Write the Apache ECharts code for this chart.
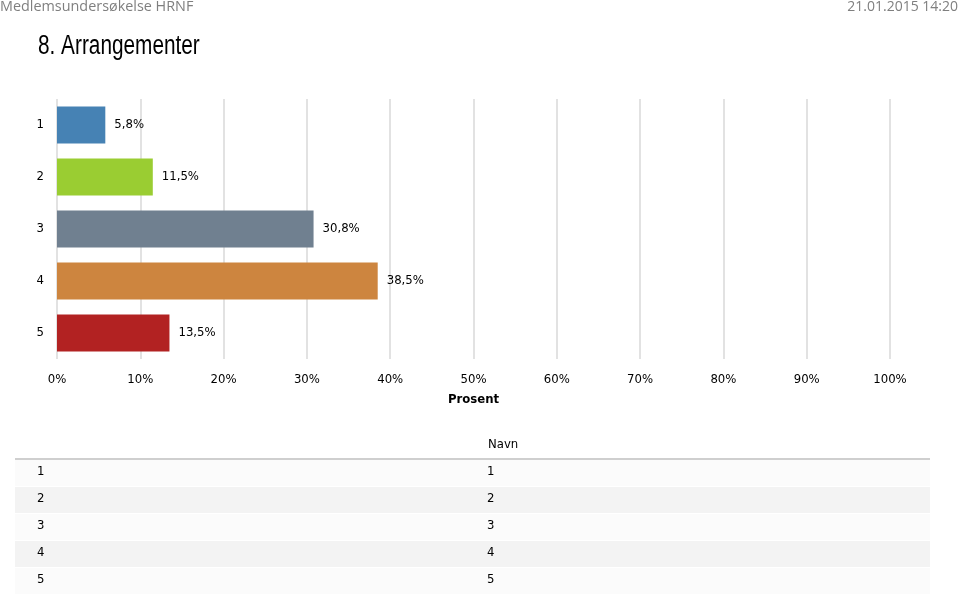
<!DOCTYPE html>
<html><head><meta charset="utf-8">
<script src="https://cdn.jsdelivr.net/npm/echarts@6/dist/echarts.min.js"></script>
<style>html,body{margin:0;padding:0;background:#fff}#c{width:960px;height:595px}</style>
</head><body><div id="c"></div>
<script>
var categories = ['1', '2', '3', '4', '5'];
var values = [5.8, 11.5, 30.8, 38.5, 13.5];
var colors = ['#4682B4', '#9ACD32', '#708090', '#CD853F', '#B22222'];
var tableHeader = 'Navn';
var tableCol1 = ['1', '2', '3', '4', '5'];
var tableCol2 = ['1', '2', '3', '4', '5'];
var FONT = '"DejaVu Sans Condensed", "Liberation Sans", sans-serif';

var chart = echarts.init(document.getElementById('c'));
var graphics = [
  {type:'text', x: 0, y: 0, style:{text:'Medlemsundersøkelse HRNF', fill:'#7f7f7f', font:'14.4px "Open Sans", sans-serif'}},
  {type:'text', right: 2, top: 0, style:{text:'21.01.2015 14:20', fill:'#7f7f7f', font:'14px "Open Sans", sans-serif'}},
  {type:'text', x: 38, y: 33, scaleX: 0.77, style:{text:'8. Arrangementer', fill:'#000', font:'27px "Liberation Sans", sans-serif'}},
  {type:'text', left: 488, top: 438, style:{text:tableHeader, fill:'#000', font:'13px ' + FONT}},
  {type:'rect', shape:{x:15, y:458, width:915, height:2}, style:{fill:'#cfcfcf'}}
];
for (var i = 0; i < tableCol1.length; i++) {
  var y = 460 + i * 27;
  graphics.push({type:'rect', shape:{x:15, y:y, width:915, height:26}, style:{fill: i % 2 ? '#f3f3f3' : '#fbfbfb'}, z:-1});
  graphics.push({type:'text', left: 37, top: y + 5, style:{text:tableCol1[i], fill:'#000', font:'13px ' + FONT}});
  graphics.push({type:'text', left: 487, top: y + 5, style:{text:tableCol2[i], fill:'#000', font:'13px ' + FONT}});
}

chart.setOption({
  animation: false,
  grid: {left: 57, top: 99, width: 833, height: 260, containLabel: false},
  xAxis: {
    type: 'value', min: 0, max: 100, interval: 10,
    name: 'Prosent', nameLocation: 'middle', nameGap: 34,
    nameTextStyle: {fontFamily: FONT, fontWeight: 'bold', fontSize: 13, color: '#000'},
    axisLabel: {formatter: '{value}%', color: '#000', fontFamily: FONT, fontSize: 13, margin: 14},
    axisLine: {show: false}, axisTick: {show: false},
    splitLine: {show: true, lineStyle: {color: '#d9d9d9', width: 1.5}}
  },
  yAxis: {
    type: 'category', data: categories, inverse: true,
    axisLine: {show: false}, axisTick: {show: false},
    axisLabel: {color: '#000', fontFamily: FONT, fontSize: 13, margin: 13}
  },
  series: [{
    type: 'bar', barCategoryGap: '29%',
    data: values.map(function (v, i) { return {value: v, itemStyle: {color: colors[i]}}; }),
    label: {show: true, position: 'right', distance: 9, color: '#000', fontFamily: FONT, fontSize: 13,
      formatter: function (p) { return p.value.toFixed(1).replace('.', ',') + '%'; }}
  }],
  graphic: graphics
});
</script></body></html>
